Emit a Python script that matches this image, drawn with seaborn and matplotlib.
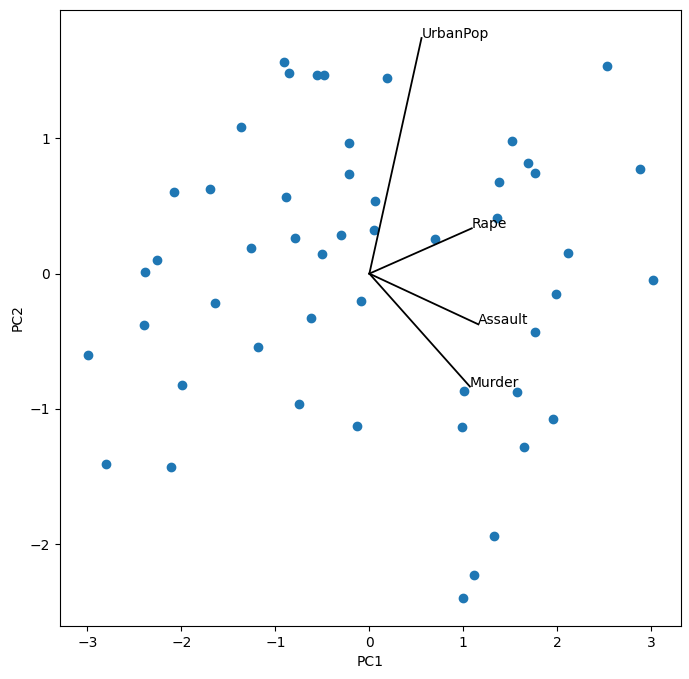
import matplotlib
matplotlib.use("Agg")
import matplotlib.pyplot as plt
import seaborn as sns
import pandas as pd

# PCA scores
pc1 = [-1.361, -2.075, -1.691, -1.265, -2.256, -2.384, -1.638,
       -0.913, -0.860, -0.557, -0.483, 0.184, -0.221, -0.221, -0.892,
       0.056, -0.796, -0.306, 0.046, 0.696, -0.508, -0.093, -0.626,
       2.526, 1.517, 1.687, 1.762, 2.881, 1.378, 1.357, 2.113, 3.016, 1.986,
       -2.395, -2.992, -1.180, -1.990, -2.800, -2.107,
       1.005, -0.753, -0.135, 0.984, 1.112, 0.994,
       1.762, 1.570, 1.954, 1.644, 1.322]
pc2 = [1.083, 0.602, 0.624, 0.188, 0.102, 0.011, -0.218,
       1.563, 1.482, 1.467, 1.467, 1.445, 0.964, 0.735, 0.565,
       0.536, 0.262, 0.284, 0.321, 0.255, 0.144, -0.203, -0.329,
       1.533, 0.979, 0.817, 0.743, 0.772, 0.676, 0.410, 0.151, -0.046, -0.151,
       -0.381, -0.602, -0.543, -0.824, -1.408, -1.430,
       -0.864, -0.964, -1.127, -1.134, -2.226, -2.398,
       -0.432, -0.876, -1.075, -1.282, -1.940]

# Loading vectors (arrow end points)
features = ["Murder", "Assault", "UrbanPop", "Rape"]
load_pc1 = [1.07, 1.16, 0.555, 1.09]
load_pc2 = [-0.835, -0.375, 1.742, 0.335]

df = pd.DataFrame({"PC1": pc1, "PC2": pc2})

fig = plt.figure(figsize=(6.89, 6.79), dpi=100)
ax = fig.add_axes([60 / 689, 53 / 679, 621 / 689, 616 / 679])

sns.scatterplot(data=df, x="PC1", y="PC2", ax=ax, s=36, color="#1f77b4",
                edgecolor="#1f77b4", linewidth=1.0)

for name, lx, ly in zip(features, load_pc1, load_pc2):
    ax.plot([0, lx], [0, ly], color="black", lw=1.3)
    ax.text(lx, ly, name, fontsize=10, color="black")

ax.set_xlabel("PC1")
ax.set_ylabel("PC2")
ax.set_xticks([-3, -2, -1, 0, 1, 2, 3])
ax.set_yticks([-2, -1, 0, 1])

fig.savefig("out.png", dpi=100)
